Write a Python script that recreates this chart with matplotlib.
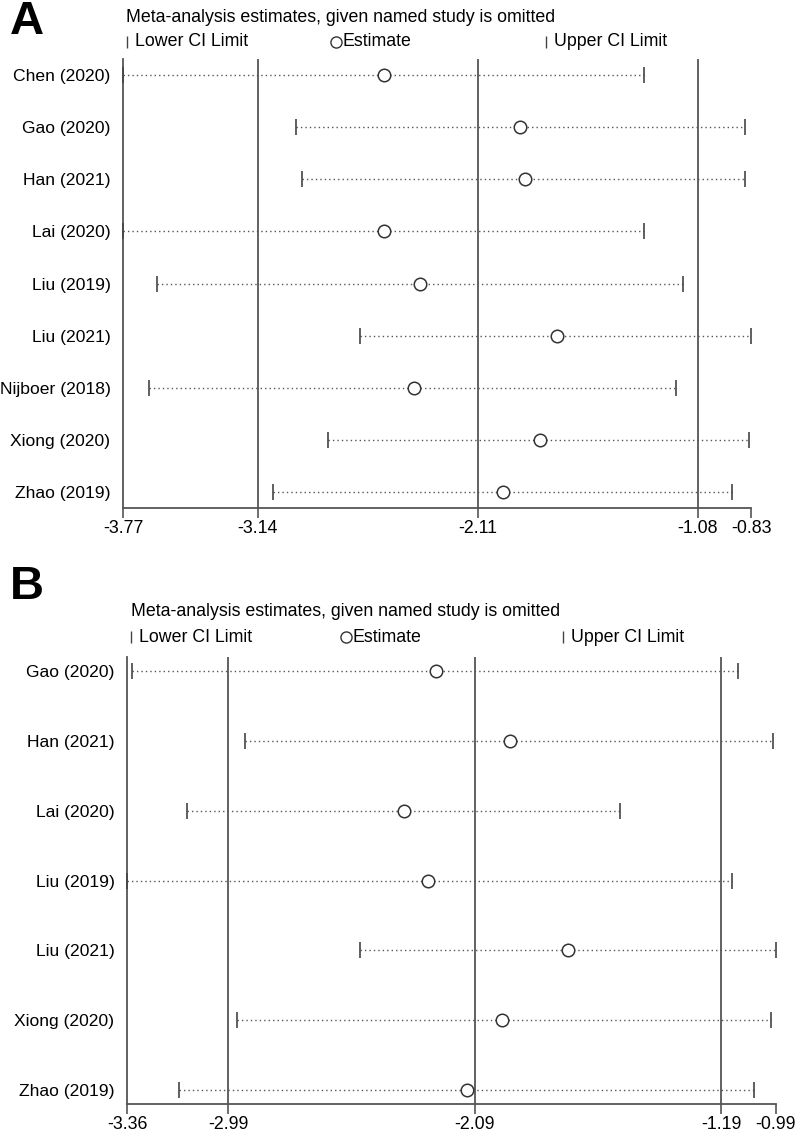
import matplotlib
matplotlib.use('Agg')
import matplotlib.pyplot as plt
from matplotlib.lines import Line2D

plt.rcParams['font.family'] = ['Liberation Sans', 'DejaVu Sans']

# panel A
studies_a = ['Chen (2020)', 'Gao (2020)', 'Han (2021)', 'Lai (2020)', 'Liu (2019)',
             'Liu (2021)', 'Nijboer (2018)', 'Xiong (2020)', 'Zhao (2019)']
est_a = [-2.55, -1.91, -1.89, -2.55, -2.38, -1.74, -2.41, -1.82, -1.99]
lo_a = [-3.77, -2.96, -2.93, -3.77, -3.61, -2.66, -3.65, -2.81, -3.07]
hi_a = [-1.33, -0.86, -0.86, -1.33, -1.15, -0.83, -1.18, -0.84, -0.92]
ticks_a = [-3.77, -3.14, -2.11, -1.08, -0.83]
refs_a = [-3.14, -2.11, -1.08]

# panel B
studies_b = ['Gao (2020)', 'Han (2021)', 'Lai (2020)', 'Liu (2019)', 'Liu (2021)',
             'Xiong (2020)', 'Zhao (2019)']
est_b = [-2.23, -1.96, -2.35, -2.26, -1.75, -1.99, -2.12]
lo_b = [-3.34, -2.93, -3.14, -3.36, -2.51, -2.96, -3.17]
hi_b = [-1.13, -1.00, -1.56, -1.15, -0.99, -1.01, -1.07]
ticks_b = [-3.36, -2.99, -2.09, -1.19, -0.99]
refs_b = [-2.99, -2.09, -1.19]

W, H = 796, 1132
fig = plt.figure(figsize=(W / 100, H / 100), dpi=100)

grey = '#444444'


def panel(rect, studies, est, lo, hi, ticks, refs):
    ax = fig.add_axes(rect)
    n = len(studies)
    y = list(range(1, n + 1))
    pad = 0.3 if n > 8 else 0.2
    for i in range(n):
        ax.plot([lo[i], hi[i]], [y[i], y[i]], color='#555555', lw=1,
                linestyle=(0, (1, 2.2)), clip_on=False, zorder=2)
    ax.plot(lo, y, linestyle='none', marker='|', ms=11, mew=1.2, color=grey, clip_on=False, zorder=3)
    ax.plot(hi, y, linestyle='none', marker='|', ms=11, mew=1.2, color=grey, clip_on=False, zorder=3)
    ax.plot(est, y, linestyle='none', marker='o', ms=9, mfc='white', mec='#333333', mew=1.1,
            clip_on=False, zorder=4)
    for r in refs:
        ax.axvline(r, color='#555555', lw=1.3, zorder=1)
    ax.set_xlim(ticks[0], ticks[-1])
    ax.set_ylim(n + pad, 1 - pad)
    ax.set_xticks(ticks)
    ax.set_xticklabels(['%.2f' % t for t in ticks], fontsize=12.8)
    ax.set_yticks(y)
    ax.set_yticklabels(studies, fontsize=12.6)
    ax.tick_params(axis='y', length=0, pad=9)
    ax.tick_params(axis='x', length=7, width=1.2, color='#555555', pad=1.5)
    ax.spines['top'].set_visible(False)
    ax.spines['right'].set_visible(False)
    ax.spines['left'].set_color('#555555')
    ax.spines['bottom'].set_color('#555555')
    ax.spines['left'].set_linewidth(1.3)
    ax.spines['bottom'].set_linewidth(1.3)
    return ax


def header(letter, letter_y, title_x, title_y, leg_y, leg_x):
    fig.text(10 / W, 1 - letter_y / H, letter, fontsize=34, fontweight='bold', va='center')
    fig.text(title_x / W, 1 - title_y / H, 'Meta-analysis estimates, given named study is omitted',
             fontsize=12.8, va='center')
    yy = 1 - leg_y / H
    fig.add_artist(Line2D([leg_x[0] / W], [yy], marker='|', ms=8, mew=1, color=grey, linestyle='none'))
    fig.text((leg_x[0] + 8) / W, yy, 'Lower CI Limit', fontsize=12.8, va='center')
    fig.add_artist(Line2D([leg_x[1] / W], [yy], marker='o', ms=8, mfc='white', mec='#333333',
                          mew=1, linestyle='none'))
    fig.text((leg_x[1] + 7) / W, yy, 'Estimate', fontsize=12.8, va='center')
    fig.add_artist(Line2D([leg_x[2] / W], [yy], marker='|', ms=8, mew=1, color=grey, linestyle='none'))
    fig.text((leg_x[2] + 8) / W, yy, 'Upper CI Limit', fontsize=12.8, va='center')


panel([123 / W, 1 - 508 / H, 628 / W, 448.7 / H], studies_a, est_a, lo_a, hi_a, ticks_a, refs_a)
panel([127 / W, 1 - 1104 / H, 649 / W, 447 / H], studies_b, est_b, lo_b, hi_b, ticks_b, refs_b)

header('A', 22, 126, 18, 42, [127, 336, 546])
header('B', 587, 131, 612, 637, [131, 346, 563])

plt.savefig('out.png', dpi=100)
